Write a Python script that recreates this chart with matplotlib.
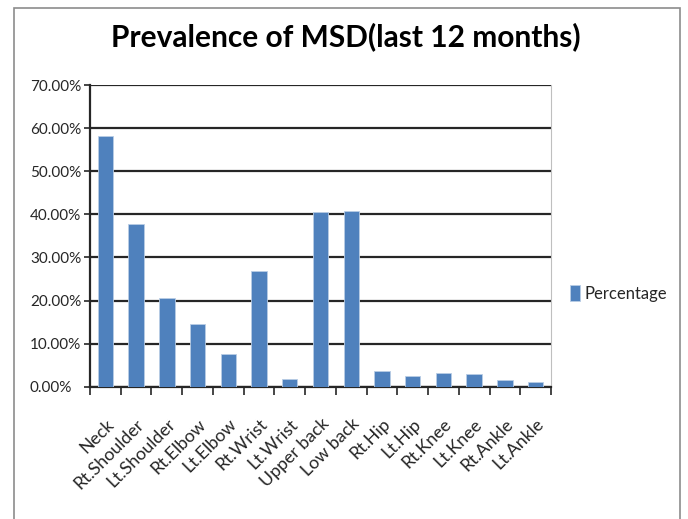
import matplotlib
matplotlib.use("Agg")
import matplotlib.pyplot as plt
from matplotlib.patches import Rectangle
from matplotlib.ticker import FuncFormatter, MultipleLocator

categories = ["Neck", "Rt.Shoulder", "Lt.Shoulder", "Rt.Elbow", "Lt.Elbow", "Rt.Wrist",
              "Lt.Wrist", "Upper back", "Low back", "Rt.Hip", "Lt.Hip", "Rt.Knee",
              "Lt.Knee", "Rt.Ankle", "Lt.Ankle"]
percentage = [58.2, 37.7, 20.5, 14.5, 7.6, 26.9, 1.9, 40.6, 40.8, 3.6, 2.5, 3.2, 2.9, 1.6, 1.1]
series_name = "Percentage"
title = "Prevalence of MSD(last 12 months)"

font = ["Lato", "DejaVu Sans"]
plt.rcParams['font.family'] = font

fig = plt.figure(figsize=(6.88, 5.19), dpi=100)
ax = fig.add_axes([0.1308, 0.2549, 0.8009 - 0.1308, 0.8362 - 0.2549])

x = list(range(len(categories)))
bars = ax.bar(x, percentage, width=0.5, color="#4F81BD", edgecolor="#B9CDE5", linewidth=0.6,
              label=series_name, zorder=3)

ax.set_xlim(-0.5, len(categories) - 0.5)
ax.set_ylim(0, 70)
ax.yaxis.set_major_locator(MultipleLocator(10))
ax.yaxis.set_major_formatter(FuncFormatter(lambda v, p: f"{v:.2f}%"))
ax.grid(axis="y", color="#262626", linewidth=1.6, zorder=1)

ax.set_xticks([i - 0.5 for i in range(len(categories) + 1)], minor=False)
ax.set_xticklabels([])
ax.set_xticks(x, minor=True)
ax.set_xticklabels(categories, minor=True, rotation=45, ha="right", va="top",
                   rotation_mode="anchor", fontsize=12.8, color="#262626")
ax.tick_params(axis="x", which="minor", length=0, pad=21)
ax.tick_params(axis="x", which="major", length=5.8, width=1.2, color="#262626", direction="out")

ytick_len_pt = 4.3
ax.tick_params(axis="y", length=ytick_len_pt, width=1.2, color="#262626", labelsize=11,
               labelcolor="#262626", pad=43.2 - ytick_len_pt)
for lab in ax.get_yticklabels():
    lab.set_horizontalalignment("left")

for side in ["left", "bottom"]:
    ax.spines[side].set_color("#262626")
    ax.spines[side].set_linewidth(1.6)
ax.spines["right"].set_color("#BFBFBF")
ax.spines["right"].set_linewidth(0.8)
ax.spines["top"].set_visible(False)

fig.text(0.503, 0.93, title, ha="center", va="center", fontsize=21.5, fontweight="bold",
         color="#000000")

leg = fig.legend(handles=[bars], labels=[series_name], loc="center left",
                 bbox_to_anchor=(0.806, 0.434), frameon=False, fontsize=12,
                 handlelength=0.6, handleheight=1.1, handletextpad=0.3)
for t in leg.get_texts():
    t.set_color("#262626")

# outer chart border
border = Rectangle((13.5 / 688, -0.01), (680 - 13.5) / 688, 1 - 8 / 519 + 0.01,
                   transform=fig.transFigure, fill=False, edgecolor="#8C8C8C", linewidth=1.2)
fig.patches.append(border)

fig.savefig("out.png", dpi=100)
